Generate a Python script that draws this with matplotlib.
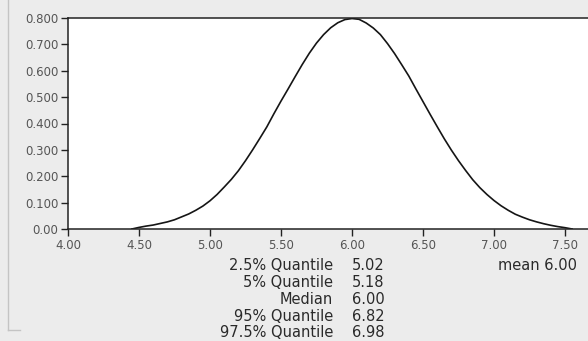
import matplotlib.pyplot as plt
from matplotlib.lines import Line2D

xs = [4.45, 4.50, 4.55, 4.60, 4.65, 4.70, 4.75, 4.80, 4.85, 4.90, 4.95,
      5.00, 5.05, 5.10, 5.15, 5.20, 5.25, 5.30, 5.35, 5.40, 5.45,
      5.50, 5.55, 5.60, 5.65, 5.70, 5.75, 5.80, 5.85, 5.90, 5.95,
      6.00, 6.05, 6.10, 6.15, 6.20, 6.25, 6.30, 6.35, 6.40, 6.45,
      6.50, 6.55, 6.60, 6.65, 6.70, 6.75, 6.80, 6.85, 6.90, 6.95,
      7.00, 7.05, 7.10, 7.15, 7.20, 7.25, 7.30, 7.35, 7.40, 7.45, 7.50, 7.55]
dens = [0.000, 0.006, 0.011, 0.015, 0.021, 0.027, 0.035, 0.046, 0.057, 0.071, 0.087,
        0.107, 0.131, 0.159, 0.188, 0.221, 0.259, 0.300, 0.343, 0.387, 0.437,
        0.485, 0.531, 0.578, 0.624, 0.667, 0.705, 0.737, 0.763, 0.782, 0.794,
        0.798, 0.795, 0.781, 0.762, 0.737, 0.703, 0.665, 0.623, 0.580, 0.531,
        0.483, 0.435, 0.388, 0.342, 0.299, 0.259, 0.222, 0.187, 0.157, 0.131,
        0.108, 0.088, 0.071, 0.056, 0.045, 0.035, 0.027, 0.020, 0.014, 0.009, 0.005, 0.000]

xticks = [4.0, 4.5, 5.0, 5.5, 6.0, 6.5, 7.0, 7.5]
yticks = [0.0, 0.1, 0.2, 0.3, 0.4, 0.5, 0.6, 0.7, 0.8]
ylabels = ['0.00', '0.100', '0.200', '0.300', '0.400', '0.500', '0.600', '0.700', '0.800']

stat_names = ['2.5% Quantile', '5% Quantile', 'Median', '95% Quantile', '97.5% Quantile']
stat_vals = [5.02, 5.18, 6.00, 6.82, 6.98]
mean_val = 6.00

bg = '#ececec'
fig = plt.figure(figsize=[5.88, 3.41], dpi=100, facecolor=bg)
ax = fig.add_axes([68/588, 1 - 229/341, 1 - 68/588, 211/341])
ax.set_facecolor('white')

ax.plot(xs, dens, color='#151515', linewidth=1.2)

ax.set_xlim(4.0, 4.0 + 520/142)
ax.set_ylim(0, 0.8)
ax.set_xticks(xticks)
ax.set_xticklabels(['%.2f' % v for v in xticks])
ax.set_yticks(yticks)
ax.set_yticklabels(ylabels)
ax.tick_params(direction='out', length=5, width=1, color='#222222',
               labelsize=8.5, labelcolor='#555555', pad=2)
ax.spines['right'].set_visible(False)
for s in ['left', 'top', 'bottom']:
    ax.spines[s].set_linewidth(1.1)
    ax.spines[s].set_color('#222222')

# summary statistics under the axis
fs = 10.5
y0 = 1 - 266/341
dy = 16.7/341
for i, (name, val) in enumerate(zip(stat_names, stat_vals)):
    y = y0 - i*dy
    fig.text(333/588, y, name, ha='right', va='center', fontsize=fs, color='#2a2a2a')
    fig.text(352/588, y, '%.2f' % val, ha='left', va='center', fontsize=fs, color='#2a2a2a')
fig.text(577/588, y0, 'mean %.2f' % mean_val, ha='right', va='center', fontsize=fs, color='#2a2a2a')

# panel border on the left
fig.add_artist(Line2D([7.5/588, 7.5/588], [1, 1 - 330/341], transform=fig.transFigure,
                      color='#c4c4c4', linewidth=1))
fig.add_artist(Line2D([7.5/588, 20/588], [1 - 330/341, 1 - 330/341], transform=fig.transFigure,
                      color='#c4c4c4', linewidth=1))

plt.savefig('out.png', dpi=100, facecolor=bg)
